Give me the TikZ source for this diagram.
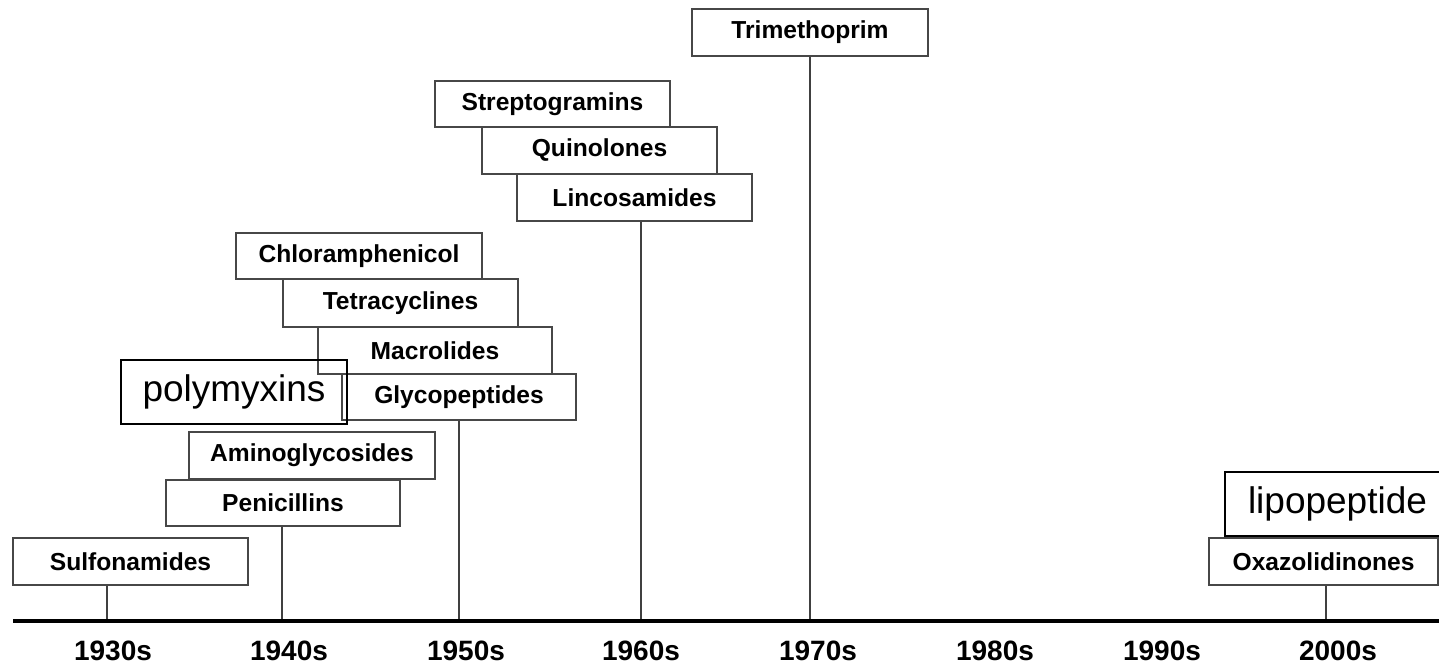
\documentclass[tikz,border=0pt]{standalone}
\usepackage{fontspec}
\setmainfont{Liberation Sans}
\begin{document}
\begin{tikzpicture}[x=0.5pt,y=-0.5pt,
  drug/.style={draw=black!72, line width=0.75pt, fill=white, inner sep=0pt,
    minimum width=117.5pt, minimum height=23.5pt,
    font=\bfseries\fontsize{12.3}{14}\selectfont},
  later/.style={draw=black, line width=1pt, fill=none, inner sep=0pt,
    minimum width=113pt, minimum height=32pt,
    font=\fontsize{18.5}{22}\selectfont},
  tick/.style={draw=black!75, line width=0.6pt},
  axis/.style={draw=black, line width=2.4pt},
  decade/.style={font=\bfseries\fontsize{14}{16}\selectfont, inner sep=0pt}]
\useasboundingbox (0,0) rectangle (1439,665);

% time axis
\coordinate (axL) at (13,621);
\coordinate (axR) at (1445,621);
\coordinate (d1930) at (107,621);
\coordinate (d1940) at (282,621);
\coordinate (d1950) at (459,621);
\coordinate (d1960) at (641,621);
\coordinate (d1970) at (810,621);
\coordinate (d2000) at (1326,621);

% classes of antibiotics, by decade of introduction
\node[drug] (sulf) at (130.5,561.5) {Sulfonamides};
\node[drug, minimum width=117pt, minimum height=23pt] (peni) at (283,503) {Penicillins};
\node[drug, minimum width=123pt] (amino) at (312,455.5) {Aminoglycosides};
\node[drug, minimum width=117pt, minimum height=23pt] (glyco) at (459,397) {Glycopeptides};
\node[drug, minimum width=117pt] (macro) at (435,350.5) {Macrolides};
\node[drug, minimum height=24pt] (tetra) at (400.5,303) {Tetracyclines};
\node[drug, minimum width=123pt, minimum height=23pt] (chlor) at (359,256) {Chloramphenicol};
\node[drug, minimum height=23pt] (strep) at (552.5,104) {Streptogramins};
\node[drug] (quino) at (599.5,150.5) {Quinolones};
\node[drug] (linco) at (634.5,197.5) {Lincosamides};
\node[drug, minimum width=118pt] (trime) at (810,32.5) {Trimethoprim};
\node[drug, minimum width=114.5pt] (oxaz) at (1323.5,561.5) {Oxazolidinones};

% added classes
\node[later] (poly) at (234,392) {polymyxins};
\node[later] (lipo) at (1337.5,504) {lipopeptide};

% decade ticks
\draw[tick] (sulf.south -| d1930) -- (d1930);
\draw[tick] (peni.south -| d1940) -- (d1940);
\draw[tick] (glyco.south -| d1950) -- (d1950);
\draw[tick] (linco.south -| d1960) -- (d1960);
\draw[tick] (trime.south -| d1970) -- (d1970);
\draw[tick] (oxaz.south -| d2000) -- (d2000);

\draw[axis] (axL) -- (axR);

% decade labels
\node[decade] (l1930) at (113,651) {1930s};
\node[decade] (l1940) at (289,651) {1940s};
\node[decade] (l1950) at (466,651) {1950s};
\node[decade] (l1960) at (641,651) {1960s};
\node[decade] (l1970) at (818,651) {1970s};
\node[decade] (l1980) at (995,651) {1980s};
\node[decade] (l1990) at (1162,651) {1990s};
\node[decade] (l2000) at (1338,651) {2000s};
\end{tikzpicture}
\end{document}
